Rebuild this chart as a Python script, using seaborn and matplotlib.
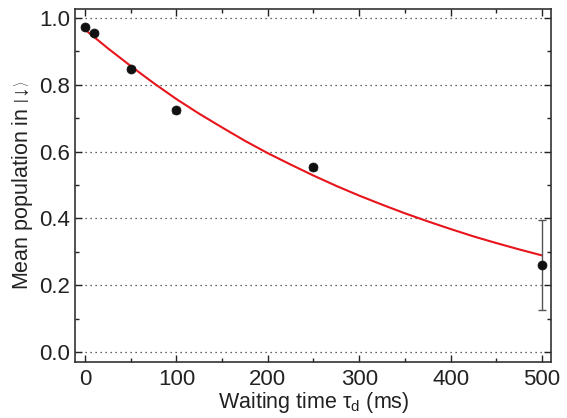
import numpy as np
import pandas as pd
import matplotlib
matplotlib.use("Agg")
import matplotlib.pyplot as plt
import seaborn as sns
from matplotlib.ticker import MultipleLocator

# data
t_ms = [0, 10, 50, 100, 250, 500]
population = [0.973, 0.955, 0.847, 0.723, 0.553, 0.260]
pop_err = [0.006, 0.006, 0.007, 0.008, 0.008, 0.135]

# fitted curve
fit_t = [0, 25, 50, 75, 100, 125, 150, 175, 200, 225, 250, 275, 300, 325, 350, 375, 400, 425, 450, 475, 500]
fit_pop = [0.965, 0.909, 0.856, 0.805, 0.757, 0.713, 0.672, 0.632, 0.595, 0.561, 0.528, 0.497,
           0.468, 0.441, 0.415, 0.391, 0.368, 0.346, 0.326, 0.307, 0.289]

sns.set_theme(style="ticks")
plt.rcParams['font.family'] = ['Liberation Sans', 'DejaVu Sans']
plt.rcParams['mathtext.fontset'] = 'custom'
plt.rcParams['mathtext.rm'] = 'Liberation Sans'

fig = plt.figure(figsize=(5.67, 4.18), dpi=100)
ax = fig.add_axes([0.133, 0.134, 0.839, 0.844])

df_pts = pd.DataFrame({"t": t_ms, "p": population, "e": pop_err})
df_fit = pd.DataFrame({"t": fit_t, "p": fit_pop})

for y in [0.0, 0.2, 0.4, 0.6, 0.8, 1.0]:
    ax.axhline(y, color="#333333", linestyle=(0, (1, 3)), linewidth=0.9, zorder=0)

sns.lineplot(data=df_fit, x="t", y="p", ax=ax, color="#e8141c", linewidth=1.5, zorder=2)
ax.errorbar(df_pts["t"], df_pts["p"], yerr=df_pts["e"], fmt="none", ecolor="#555555",
            elinewidth=1.0, capsize=3, capthick=1.0, zorder=3)
sns.scatterplot(data=df_pts, x="t", y="p", ax=ax, color="#111111", s=42, edgecolor="#111111",
                linewidth=0.5, zorder=4)

ax.set_xlim(-10.5, 510)
ax.set_ylim(-0.03, 1.026)
ax.xaxis.set_major_locator(MultipleLocator(100))
ax.xaxis.set_minor_locator(MultipleLocator(50))
ax.yaxis.set_major_locator(MultipleLocator(0.2))
ax.yaxis.set_minor_locator(MultipleLocator(0.1))
ax.yaxis.set_major_formatter(matplotlib.ticker.FormatStrFormatter('%.1f'))

ax.tick_params(which="both", direction="in", top=True, right=True, colors="#222222",
               labelsize=16, width=1.0)
ax.tick_params(which="major", length=5)
ax.tick_params(which="minor", length=3)
ax.tick_params(axis="x", pad=5)
ax.tick_params(axis="y", pad=4)
for s in ax.spines.values():
    s.set_linewidth(1.2)
    s.set_color("#333333")

ax.set_xlabel("Waiting time τ$_\\mathregular{d}$ (ms)", fontsize=15.5, labelpad=0, color="#222222")
ax.set_ylabel(r"Mean population in $\left|\!\downarrow\!\right\rangle$", fontsize=15.5, labelpad=3,
              color="#222222")

fig.savefig("out.png", dpi=100)
